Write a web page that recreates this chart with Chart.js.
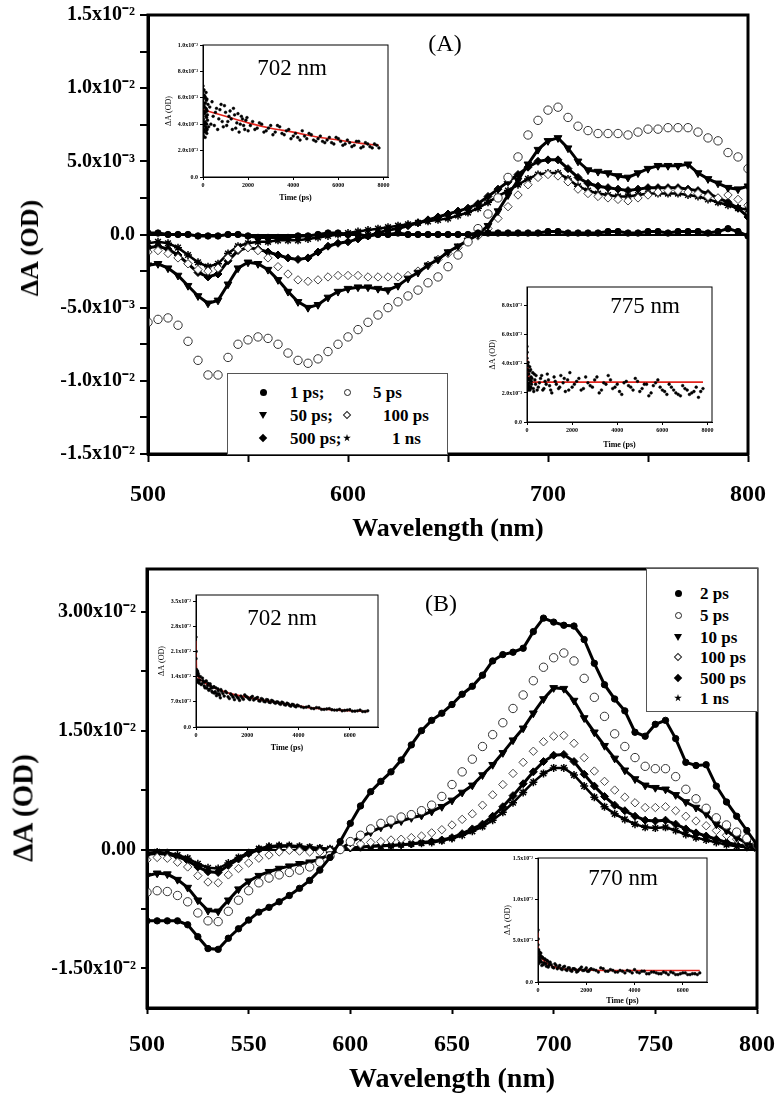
<!DOCTYPE html>
<html><head><meta charset="utf-8">
<script src="https://cdn.jsdelivr.net/npm/chart.js@4.4.0/dist/chart.umd.min.js"></script>
<style>
html,body{margin:0;padding:0;background:#fff;width:775px;height:1097px;overflow:hidden;position:relative;}
canvas{position:absolute;display:block;}
.t{position:absolute;font-family:"Liberation Serif","Times New Roman",serif;color:#000;white-space:nowrap;line-height:1;}
.ctr{transform:translate(-50%,-50%);}
.rot{transform:translate(-50%,-50%) rotate(-90deg);font-weight:bold;}
.leg{position:absolute;background:#fff;border:1px solid #555;box-sizing:border-box;}
.sym{position:absolute;box-sizing:border-box;}
.lt{position:absolute;font-family:"Liberation Serif","Times New Roman",serif;font-weight:bold;font-size:17px;line-height:1;transform:translateY(-50%);color:#000;white-space:nowrap;}
</style></head><body>
<canvas id="mainA" width="775" height="545" style="left:0;top:0"></canvas>
<canvas id="mainB" width="775" height="552" style="left:0;top:545px"></canvas>
<canvas id="insA1" width="255" height="178" style="left:140px;top:35px"></canvas>
<canvas id="insA2" width="250" height="175" style="left:470px;top:277px"></canvas>
<canvas id="insB1" width="245" height="175" style="left:140px;top:585px"></canvas>
<canvas id="insB2" width="225" height="158" style="left:490px;top:848px"></canvas>
<div id="overlay"></div>
<script>
// ---------------- DATA ----------------
const wavelength = [500,505,510,515,520,525,530,535,540,545,550,555,560,565,570,575,580,585,590,595,600,605,610,615,620,625,630,635,640,645,650,655,660,665,670,675,680,685,690,695,700,705,710,715,720,725,730,735,740,745,750,755,760,765,770,775,780,785,790,795,800];

// Panel A, ΔA in units of 1e-3 OD
const labelsA = ["1 ps","5 ps","50 ps","100 ps","500 ps","1 ns"];
const a1ps = [0.1,0.1,0.0,0.0,0.0,-0.1,-0.1,-0.1,0.0,0.0, -0.1,-0.2,-0.2,-0.2,-0.2,-0.1,-0.1,0.0,0.1,0.1, 0.0,0.0,-0.1,0.0,0.0,0.1,0.0,0.0,0.0,0.0, 0.0,0.0,0.0,0.1,0.1,0.1,0.1,0.1,0.1,0.1, 0.2,0.2,0.1,0.1,0.1,0.1,0.2,0.2,0.1,0.1, 0.2,0.2,0.1,0.2,0.2,0.2,0.1,0.2,0.4,0.2, -0.1];
const a5ps = [-6.0,-5.8,-5.7,-6.2,-7.3,-8.6,-9.6,-9.6,-8.4,-7.5, -7.2,-7.0,-7.1,-7.5,-8.1,-8.6,-8.8,-8.5,-8.0,-7.5, -7.0,-6.5,-6.0,-5.5,-5.0,-4.6,-4.2,-3.8,-3.3,-2.9, -2.2,-1.4,-0.5,0.4,1.4,2.5,3.9,5.3,6.8,7.8, 8.5,8.7,8.0,7.4,7.1,6.9,6.9,6.9,6.8,7.0, 7.2,7.2,7.3,7.3,7.3,7.0,6.6,6.4,5.6,5.3, 4.5];
const a50ps = [-2.1,-2.0,-2.3,-2.8,-3.5,-4.2,-4.7,-4.5,-3.4,-2.3, -1.9,-2.0,-2.4,-3.1,-3.9,-4.6,-5.0,-4.8,-4.3,-3.9, -3.7,-3.6,-3.6,-3.7,-3.8,-3.5,-3.0,-2.6,-2.1,-1.7, -1.2,-0.8,-0.4,0.0,0.6,1.6,2.7,3.7,4.8,5.8, 6.4,6.6,5.9,5.0,4.4,4.3,4.2,4.0,3.9,4.2, 4.5,4.7,4.7,4.7,4.8,4.2,3.8,3.5,3.2,3.1, 3.3];
const a100ps = [-1.2,-1.1,-1.3,-1.6,-2.0,-2.4,-2.5,-2.3,-1.6,-1.0, -0.9,-1.1,-1.6,-2.2,-2.7,-3.1,-3.2,-3.1,-2.9,-2.8, -2.8,-2.8,-2.9,-2.9,-2.9,-2.9,-2.8,-2.5,-2.1,-1.7, -1.3,-0.9,-0.5,-0.1,0.4,1.1,1.9,2.7,3.4,3.9, 4.1,4.0,3.6,3.1,2.8,2.6,2.5,2.4,2.3,2.5, 2.7,2.9,3.0,3.0,2.9,2.8,2.6,2.5,2.7,2.4, 2.0];
const a500ps = [-0.9,-0.8,-1.0,-1.4,-2.0,-2.6,-2.9,-2.7,-1.8,-1.1, -0.9,-1.0,-1.2,-1.4,-1.6,-1.7,-1.6,-1.2,-0.8,-0.6, -0.5,-0.3,-0.1,0.1,0.3,0.4,0.6,0.8,1.0,1.2, 1.4,1.6,1.8,2.1,2.6,3.1,3.6,4.1,4.6,5.0, 5.1,5.1,4.5,3.9,3.5,3.3,3.2,3.1,3.0,3.1, 3.2,3.2,3.2,3.2,3.1,3.0,2.8,2.5,2.2,1.8, 1.2];
const a1ns = [-0.6,-0.5,-0.6,-0.9,-1.4,-1.9,-2.2,-2.0,-1.3,-0.8, -0.6,-0.5,-0.5,-0.4,-0.4,-0.4,-0.3,-0.2,-0.1,0.0, 0.1,0.2,0.3,0.4,0.5,0.6,0.7,0.8,0.9,1.0, 1.1,1.3,1.5,1.8,2.2,2.6,3.0,3.4,3.8,4.1, 4.2,4.2,3.8,3.3,3.0,2.8,2.7,2.6,2.6,2.7, 2.8,2.8,2.8,2.8,2.7,2.6,2.4,2.2,2.0,1.8, 1.7];

// Panel B, ΔA in units of 1e-3 OD
const labelsB = ["2 ps","5 ps","10 ps","100 ps","500 ps","1 ns"];
const b2ps = [-9.0,-9.0,-9.0,-9.0,-9.5,-11.0,-12.5,-12.6,-11.2,-10.0, -8.9,-7.9,-7.3,-6.6,-5.8,-4.9,-3.9,-2.6,-1.0,1.0, 3.3,5.5,7.3,8.6,9.8,11.3,13.2,15.0,16.3,17.2, 18.3,19.6,20.6,22.0,23.8,24.6,24.9,25.4,27.5,29.2, 28.7,28.3,28.2,26.5,23.5,20.8,19.0,17.5,14.8,14.3, 15.8,16.3,14.0,11.0,10.6,10.7,8.0,6.0,4.2,2.4, 0.6];
const b5ps = [-5.4,-5.2,-5.3,-5.8,-6.6,-8.0,-9.0,-9.1,-7.8,-6.4, -5.2,-4.2,-3.6,-3.2,-2.9,-2.6,-2.2,-1.6,-0.8,0.0, 1.0,1.8,2.6,3.3,3.7,4.1,4.4,4.9,5.6,6.7, 8.2,9.8,11.4,13.0,14.5,16.0,17.8,19.5,21.3,23.0, 24.2,24.8,23.8,21.6,19.2,16.8,14.6,13.0,11.6,10.5, 10.2,10.2,9.2,7.6,6.4,5.2,4.0,3.1,2.2,1.4, 0.7];
const b10ps = [-3.3,-3.0,-3.1,-3.8,-4.8,-6.4,-7.7,-7.8,-6.4,-5.0, -4.0,-3.3,-2.8,-2.4,-2.1,-1.8,-1.6,-1.2,-0.6,0.0, 0.9,1.6,2.2,2.8,3.2,3.6,4.0,4.3,4.8,5.4, 6.2,7.2,8.1,9.4,10.7,12.2,13.8,15.3,17.2,19.0, 20.4,20.3,18.8,16.6,14.8,13.1,11.5,10.0,8.9,8.1, 7.8,7.6,6.9,6.0,5.3,4.5,3.2,2.4,1.5,0.8, 0.4];
const b100ps = [-1.3,-1.0,-1.1,-1.6,-2.2,-3.3,-4.1,-4.2,-3.2,-2.4, -1.7,-1.1,-0.7,-0.3,-0.1,-0.2,-0.3,-0.3,-0.2,0.0, 0.4,0.7,0.9,1.0,1.2,1.3,1.5,1.7,2.1,2.5, 3.1,3.8,4.5,5.6,6.9,8.2,9.6,11.0,12.4,13.6, 14.3,14.4,13.4,11.6,9.9,8.6,7.5,6.6,5.9,5.3, 5.3,5.4,4.9,4.2,3.6,3.0,2.4,1.8,1.3,0.8, 0.4];
const b500ps = [-0.6,-0.5,-0.6,-0.9,-1.4,-2.2,-2.8,-2.9,-2.0,-1.2, -0.5,0.0,0.3,0.4,0.4,0.3,0.2,0.1,0.0,0.1, 0.2,0.3,0.4,0.5,0.5,0.6,0.7,0.9,1.0,1.2, 1.5,2.0,2.6,3.2,4.2,5.4,6.8,8.3,9.8,11.1, 11.9,12.0,11.1,9.5,8.0,6.7,5.6,4.9,4.2,3.7, 3.6,3.7,3.2,2.6,2.1,1.7,1.3,0.9,0.6,0.4, 0.2];
const b1ns = [-0.4,-0.3,-0.4,-0.7,-1.1,-1.8,-2.3,-2.4,-1.7,-1.0, -0.4,0.1,0.4,0.5,0.5,0.4,0.3,0.2,0.1,0.1, 0.2,0.3,0.4,0.4,0.5,0.6,0.7,0.8,0.9,1.1, 1.4,1.8,2.3,2.9,3.7,4.7,5.9,7.2,8.5,9.6, 10.3,10.3,9.4,8.0,6.6,5.4,4.5,3.8,3.2,2.8, 2.7,2.8,2.4,1.9,1.5,1.2,0.9,0.6,0.4,0.3, 0.1];

// Axis ticks and labels (ΔA in 1e-3 OD)
const xTicksA = [500,550,600,650,700,750,800];
const xTickLabelsA = ["500","","600","","700","","800"];
const yTicksA = [-15,-12.5,-10,-7.5,-5,-2.5,0,2.5,5,7.5,10,12.5,15];
const yTickLabelsA = ["-1.5x10⁻²","","-1.0x10⁻²","","-5.0x10⁻³","","0.0","","5.0x10⁻³","","1.0x10⁻²","","1.5x10⁻²"];
const xTicksB = [500,550,600,650,700,750,800];
const xTickLabelsB = ["500","550","600","650","700","750","800"];
const yTicksB = [-15,-7.5,0,7.5,15,22.5,30];
const yTickLabelsB = ["-1.50x10⁻²","","0.00","","1.50x10⁻²","","3.00x10⁻²"];

// Insets: kinetics (time in ps, ΔA in 1e-3 OD)
const insetA1Time = [0,0,10,20,30,40,50,60,70,80,90,100,110,120,130,140,150,160,170,180,200,220,250,300,350,400,450,500,600,700,800,900,1000,1100,1200,1300,1400,1500,1600,1700,1800,1900,2000,2200,2400,2600,2800,3000,3200,3400,3600,3800,4000,4200,4400,4600,4800,5000,5200,5400,5600,5800,6000,6200,6400,6600,6800,7000,7200,7400,7600,7800,
 5,15,25,35,45,55,65,75,85,95,105,115,125,135,145,155,165,175,185,195,550,650,750,850,950,1050,1150,1250,1350,1450,1550,1650,1750,1850,1950,2100,2300,2500,2700,2900,3100,3300,3500,3700,3900,4100,4300,4500,4700,4900,5100,5300,5500,5700,5900,6100,6300,6500,6700,6900,7100,7300,7500,7700];
const insetA1Signal = [6.9,3.2,5.9,4.4,3.6,5.4,6.2,3.9,4.8,5.6,3.4,4.9,6.0,4.1,5.2,3.7,5.8,4.5,3.3,5.0,4.3,5.5,3.8,5.3,4.0,5.7,4.6,3.9,5.2,4.4,5.5,3.8,4.9,4.2,5.0,3.6,4.7,4.1,3.4,4.6,3.9,4.3,3.5,4.2,3.7,4.0,3.5,3.9,3.4,3.8,3.2,3.6,3.1,3.0,3.5,2.9,3.2,2.7,3.1,2.6,3.0,2.5,2.9,2.4,2.8,2.3,2.7,2.2,2.6,2.3,2.5,2.2,
 6.5,3.1,5.0,4.0,6.6,3.5,5.3,4.2,6.1,3.0,5.6,3.8,4.6,6.4,3.5,5.1,4.0,5.9,3.6,4.7,4.9,3.6,5.1,4.2,5.4,3.9,4.6,4.4,5.2,3.7,4.8,4.0,4.4,3.6,4.5,3.9,3.6,4.1,3.4,3.7,3.2,3.9,3.3,3.5,2.9,3.3,2.8,3.1,3.3,2.8,2.9,2.7,2.8,2.6,3.0,2.7,2.5,2.6,2.4,2.7,2.3,2.5,2.2,2.4];
const insetA1FitTime = [0,500,1000,2000,3000,4000,5000,6000,7000,7800];
const insetA1FitSignal = [5.1,4.85,4.6,4.1,3.7,3.4,3.05,2.8,2.55,2.4];
const insetA1YTicks = [0,2,4,6,8,10];
const insetA1YLabels = ["0.0","2.0x10⁻³","4.0x10⁻³","6.0x10⁻³","8.0x10⁻³","1.0x10⁻²"];

const insetA2Time = [0,0,10,20,30,40,50,60,80,100,120,150,180,200,250,300,350,400,500,600,700,800,900,1000,1100,1200,1300,1400,1500,1600,1700,1800,1900,2000,2200,2400,2600,2800,3000,3200,3400,3600,3800,4000,4200,4400,4600,4800,5000,5200,5400,5600,5800,6000,6200,6400,6600,6800,7000,7200,7400,7600,7800,
 5,15,25,35,45,55,70,90,110,130,140,160,170,190,220,280,320,380,450,550,650,750,850,950,1050,1250,1450,1650,1850,2100,2300,2500,2700,2900,3100,3300,3500,3700,3900,4100,4300,4500,4700,4900,5100,5300,5500,5700,5900,6100,6300,6500,6700,6900,7100,7300,7500,7700];
const insetA2Signal = [5.2,4.4,3.9,2.4,3.6,2.9,4.1,2.2,3.3,2.7,3.8,2.3,3.1,2.6,3.4,2.1,2.9,3.2,2.4,3.0,2.2,2.8,3.3,2.5,2.0,3.1,2.6,2.3,3.2,2.7,2.1,2.9,3.4,2.4,2.8,2.2,3.1,2.5,2.9,2.0,2.7,3.2,2.3,2.6,1.9,2.8,2.4,3.0,2.1,2.6,1.8,2.5,2.9,2.2,1.9,2.4,2.0,1.8,2.3,1.9,2.1,1.7,2.3,
 4.8,2.3,3.3,2.6,3.9,2.4,3.0,2.5,3.5,2.2,2.9,3.6,2.4,2.8,3.0,2.3,3.3,2.6,2.2,2.7,3.2,2.3,2.6,2.9,2.2,2.8,2.4,3.0,2.2,2.6,3.0,2.3,2.7,2.4,3.1,2.2,2.6,2.9,2.4,2.1,2.7,2.5,2.2,2.8,2.3,2.6,2.0,2.7,2.4,2.1,2.6,2.2,1.9,2.5,2.2,2.0,2.4,2.1];
const insetA2FitTime = [0,30,80,150,250,1000,4000,7800];
const insetA2FitSignal = [4.6,4.0,3.2,2.8,2.75,2.75,2.75,2.75];
const insetA2YTicks = [0,2,4,6,8];
const insetA2YLabels = ["0.0","2.0x10⁻³","4.0x10⁻³","6.0x10⁻³","8.0x10⁻³"];

const insetB1Time = [0,0,10,20,30,50,80,100,150,200,250,300,350,400,450,500,550,600,650,700,750,800,850,900,950,1000,1100,1200,1300,1400,1500,1600,1700,1800,1900,2000,2100,2200,2300,2400,2500,2600,2700,2800,2900,3000,3100,3200,3300,3400,3500,3600,3700,3800,3900,4000,4200,4400,4600,4800,5000,5200,5400,5600,5800,6000,6200,6400,6600,6700,
 5,15,25,40,60,70,90,120,170,220,270,320,370,420,470,520,570,620,670,720,770,820,870,920,970,1050,1150,1250,1350,1450,1550,1650,1750,1850,1950,2050,2150,2250,2350,2450,2550,2650,2750,2850,2950,3050,3150,3250,3350,3450,3550,3650,3750,3850,3950,4100,4300,4500,4700,4900,5100,5300,5500,5700,5900,6100,6300,6500];
const insetB1Signal = [25,19,16,14.5,13.0,15.0,12.5,14.2,13.0,11.8,13.6,12.4,10.9,12.8,11.5,10.2,12.0,10.8,9.6,11.2,9.8,8.7,10.6,9.2,8.1,9.9,8.6,9.5,7.9,8.8,7.6,8.4,7.4,8.1,8.9,8.3,7.6,8.5,7.8,8.2,7.2,7.7,7.0,7.5,6.8,7.2,6.6,6.9,6.3,6.7,6.1,6.4,5.8,6.2,5.6,5.9,5.4,5.7,5.1,5.3,4.9,5.1,4.7,4.9,4.6,4.8,4.4,4.7,4.3,4.5,
 21,13.0,15.8,12.6,15.5,13.1,14.8,12.2,14.0,12.0,12.9,11.4,12.6,10.8,12.1,10.5,11.4,9.9,11.0,9.4,10.9,9.3,10.1,8.8,10.4,9.3,9.9,8.4,9.2,8.3,8.9,8.0,8.6,7.7,8.5,7.9,8.2,7.5,8.0,7.3,7.9,7.1,7.6,6.9,7.4,6.8,7.0,6.5,6.9,6.2,6.6,6.0,6.3,5.8,6.1,5.6,5.5,5.2,5.4,4.9,5.0,4.8,4.7,4.5,4.7,4.4,4.5,4.3];
const insetB1FitTime = [0,20,60,200,500,1000,1500,2000,2500,3000,3500,4000,4500,5000,5500,6000,6700];
const insetB1FitSignal = [24,16,14.2,13.0,11.6,10.1,9.0,8.3,7.6,7.0,6.4,5.8,5.3,5.0,4.7,4.5,4.3];
const insetB1YTicks = [0,7,14,21,28,35];
const insetB1YLabels = ["0.0","7.0x10⁻³","1.4x10⁻²","2.1x10⁻²","2.8x10⁻²","3.5x10⁻²"];

const insetB2Time = [0,0,10,20,30,50,70,100,130,160,200,250,300,350,400,450,500,600,700,800,900,1000,1100,1200,1300,1400,1500,1600,1700,1800,1900,2000,2100,2200,2400,2600,2800,3000,3200,3400,3600,3800,4000,4200,4400,4600,4800,5000,5200,5400,5600,5800,6000,6200,6400,6600,6700,
 5,15,25,40,60,80,90,115,145,180,225,275,325,375,425,475,550,650,750,850,950,1050,1150,1250,1350,1450,1550,1650,1750,1850,1950,2050,2150,2300,2500,2700,2900,3100,3300,3500,3700,3900,4100,4300,4500,4700,4900,5100,5300,5500,5700,5900,6100,6300,6500];
const insetB2Signal = [6.3,4.5,3.8,2.2,3.4,2.8,3.6,2.5,3.1,2.0,2.9,2.3,2.7,1.9,2.5,2.0,2.4,1.8,2.2,1.6,2.0,1.5,1.9,1.4,1.7,1.3,1.6,1.2,1.5,1.8,1.4,1.7,1.3,1.6,1.4,1.7,1.3,1.5,1.2,1.4,1.1,1.3,1.5,1.1,1.3,1.0,1.2,1.0,1.2,0.9,1.1,0.9,1.1,0.9,1.0,0.9,1.1,
 5.2,2.6,3.9,3.0,2.4,3.3,2.7,3.5,2.4,3.0,2.1,2.8,2.2,2.6,1.8,2.3,2.1,1.7,2.0,1.8,1.6,1.8,1.5,1.7,1.4,1.6,1.5,1.3,1.6,1.4,1.5,1.3,1.5,1.5,1.2,1.6,1.3,1.4,1.2,1.3,1.4,1.1,1.2,1.3,1.0,1.2,1.1,1.0,1.1,1.2,0.9,1.0,1.1,0.9,1.0];
const insetB2FitTime = [0,20,100,300,600,1000,1500,2000,3000,4000,5000,6700];
const insetB2FitSignal = [6.0,3.4,3.0,2.4,1.9,1.6,1.5,1.45,1.4,1.4,1.4,1.4];
const insetB2YTicks = [0,5,10,15];
const insetB2YLabels = ["0.0","5.0x10⁻³","1.0x10⁻²","1.5x10⁻²"];

const insetXTicksA = [0,2000,4000,6000,8000];
const insetXTicksB = [0,2000,4000,6000];

// ---------------- RENDERING ----------------
const SERIF = "'Liberation Serif','Times New Roman',serif";
const framePlugin = {
  id: 'frame',
  beforeDraw(chart, args, opts) {
    if (opts.fill) {
      const a = chart.chartArea, c = chart.ctx;
      c.save(); c.fillStyle = opts.fill; c.fillRect(a.left, a.top, a.right - a.left, a.bottom - a.top); c.restore();
    }
  },
  afterDraw(chart, args, opts) {
    const a = chart.chartArea, c = chart.ctx;
    c.save(); c.strokeStyle = '#000'; c.lineWidth = opts.width || 1;
    c.strokeRect(a.left, a.top, a.right - a.left, a.bottom - a.top); c.restore();
  }
};

const styles = [
  {pointStyle:'circle', radius:3.2, fill:'#000', border:'#000', bw:1, line:3, rot:0},
  {pointStyle:'circle', radius:4.2, fill:'#fff', border:'#333', bw:1, line:0, rot:0},
  {pointStyle:'triangle', radius:4.5, fill:'#000', border:'#000', bw:1, line:3, rot:180},
  {pointStyle:'rectRot', radius:4.2, fill:'#fff', border:'#444', bw:1, line:0, rot:0},
  {pointStyle:'rectRot', radius:4, fill:'#000', border:'#000', bw:1, line:3, rot:0},
  {pointStyle:'star', radius:4, fill:'#000', border:'#000', bw:1.5, line:2.5, rot:0},
];

function spectra(labels, series) {
  return series.map((vals, i) => {
    const s = styles[i];
    return {
      label: labels[i],
      data: wavelength.map((w, k) => ({x: w, y: vals[k]})),
      showLine: s.line > 0, borderColor: '#000', borderWidth: s.line || 0,
      pointStyle: s.pointStyle, pointRadius: s.radius, pointRotation: s.rot,
      pointBackgroundColor: s.fill, pointBorderColor: s.border, pointBorderWidth: s.bw,
      tension: 0
    };
  });
}

function mainChart(id, g) {
  const zeroColor = ctx => (ctx.tick && Math.abs(ctx.tick.value) < 1e-9) ? '#000' : 'rgba(0,0,0,0)';
  return new Chart(document.getElementById(id), {
    type: 'line',
    data: {datasets: spectra(g.labels, g.series)},
    plugins: [framePlugin],
    options: {
      responsive: false, animation: false, events: [],
      layout: {padding: {top: g.top, right: g.right, left: 0, bottom: 0}},
      plugins: {legend: {display: false}, tooltip: {enabled: false}, frame: {width: 3}},
      scales: {
        x: {
          type: 'linear', min: 500, max: 800,
          afterBuildTicks: s => { s.ticks = g.xTicks.map(v => ({value: v})); },
          afterFit: s => { s.height = g.xH; s.paddingLeft = 0; s.paddingRight = 0; },
          grid: {drawOnChartArea: false, drawTicks: true, tickLength: g.tl, tickWidth: 2, tickColor: '#000'},
          border: {display: true, color: '#000', width: 3},
          ticks: {callback: (v, i) => g.xLabels[i], color: '#000', padding: g.xPad, maxRotation: 0, autoSkip: false,
                  font: {family: SERIF, size: g.xFont, weight: 'bold', lineHeight: 1.2}},
          title: {display: true, text: 'Wavelength (nm)', color: '#000',
                  font: {family: SERIF, size: g.titleFont, weight: 'bold', lineHeight: 1}, padding: {top: 0, bottom: g.xTitlePad}}
        },
        y: {
          type: 'linear', min: g.yMin, max: g.yMax,
          afterBuildTicks: s => { s.ticks = g.yTicks.map(v => ({value: v})); },
          afterFit: s => { s.width = g.yW; s.paddingTop = 0; s.paddingBottom = 0; },
          grid: {drawOnChartArea: true, color: zeroColor, lineWidth: 2, drawTicks: true, tickLength: g.tl, tickWidth: 2, tickColor: '#000'},
          border: {display: true, color: '#000', width: 3},
          ticks: {callback: (v, i) => g.yLabels[i], color: '#000', padding: 5, autoSkip: false,
                  font: {family: SERIF, size: g.yFont, weight: 'bold'}},
          title: {display: false}
        }
      }
    }
  });
}

mainChart('mainA', {labels: labelsA, series: [a1ps, a5ps, a50ps, a100ps, a500ps, a1ns],
  top: 15, right: 27, xH: 91, yW: 148, tl: 8, xPad: 18, xFont: 24, yFont: 20, titleFont: 26, xTitlePad: 3,
  xTicks: xTicksA, xLabels: xTickLabelsA, yTicks: yTicksA, yLabels: yTickLabelsA, yMin: -15, yMax: 15});
mainChart('mainB', {labels: labelsB, series: [b2ps, b5ps, b10ps, b100ps, b500ps, b1ns],
  top: 24, right: 18, xH: 89, yW: 147, tl: 6, xPad: 16, xFont: 24, yFont: 20, titleFont: 28, xTitlePad: 3,
  xTicks: xTicksB, xLabels: xTickLabelsB, yTicks: yTicksB, yLabels: yTickLabelsB, yMin: -20, yMax: 35.4});

function insetChart(id, g) {
  return new Chart(document.getElementById(id), {
    type: 'line',
    data: {datasets: [
      {label: 'data', data: g.t.map((t, k) => ({x: t, y: g.v[k]})), showLine: false, pointRadius: 1.4,
       pointBackgroundColor: '#000', pointBorderColor: '#000', pointBorderWidth: 0.5},
      {label: 'fit', data: g.ft.map((t, k) => ({x: t, y: g.fv[k]})), showLine: true, pointRadius: 0,
       borderColor: '#e3241c', borderWidth: 1.6, cubicInterpolationMode: 'monotone'}
    ]},
    plugins: [framePlugin],
    options: {
      responsive: false, animation: false, events: [],
      layout: {padding: {top: g.top, right: g.right, left: 0, bottom: 0}},
      plugins: {legend: {display: false}, tooltip: {enabled: false}, frame: {width: 1, fill: '#fff'}},
      scales: {
        x: {
          type: 'linear', min: 0, max: g.xMax,
          afterBuildTicks: s => { s.ticks = g.xTicks.map(v => ({value: v})); },
          afterFit: s => { s.height = g.xH; s.paddingLeft = 0; s.paddingRight = 0; },
          grid: {drawOnChartArea: false, tickLength: 3, tickColor: '#000'},
          border: {display: true, color: '#000', width: 1},
          ticks: {callback: v => String(v), color: '#000', padding: 2, maxRotation: 0, autoSkip: false,
                  font: {family: SERIF, size: 6, weight: 'bold'}},
          title: {display: true, text: 'Time (ps)', color: '#000', font: {family: SERIF, size: 8, weight: 'bold', lineHeight: 1.2},
                  padding: {top: 0, bottom: g.xTitlePad}}
        },
        y: {
          type: 'linear', min: 0, max: g.yMax,
          afterBuildTicks: s => { s.ticks = g.yTicks.map(v => ({value: v})); },
          afterFit: s => { s.width = g.yW; s.paddingTop = 0; s.paddingBottom = 0; },
          grid: {drawOnChartArea: false, tickLength: 3, tickColor: '#000'},
          border: {display: true, color: '#000', width: 1},
          ticks: {callback: (v, i) => g.yLabels[i], color: '#000', padding: 2, autoSkip: false,
                  font: {family: SERIF, size: 6, weight: 'bold'}},
          title: {display: true, text: 'ΔA (OD)', color: '#000', font: {family: SERIF, size: 8, lineHeight: 1.2},
                  padding: {top: g.yTitlePad, bottom: 0}}
        }
      }
    }
  });
}

insetChart('insA1', {t: insetA1Time, v: insetA1Signal, ft: insetA1FitTime, fv: insetA1FitSignal,
  xMax: 8200, yMax: 10, xTicks: insetXTicksA, yTicks: insetA1YTicks, yLabels: insetA1YLabels,
  top: 10, right: 7, xH: 36, yW: 63, xTitlePad: 10, yTitlePad: 24});
insetChart('insA2', {t: insetA2Time, v: insetA2Signal, ft: insetA2FitTime, fv: insetA2FitSignal,
  xMax: 8200, yMax: 9.3, xTicks: insetXTicksA, yTicks: insetA2YTicks, yLabels: insetA2YLabels,
  top: 10, right: 8, xH: 30, yW: 57, xTitlePad: 2, yTitlePad: 18});
insetChart('insB1', {t: insetB1Time, v: insetB1Signal, ft: insetB1FitTime, fv: insetB1FitSignal,
  xMax: 7100, yMax: 36.7, xTicks: insetXTicksB, yTicks: insetB1YTicks, yLabels: insetB1YLabels,
  top: 10, right: 7, xH: 33, yW: 56, xTitlePad: 7, yTitlePad: 17});
insetChart('insB2', {t: insetB2Time, v: insetB2Signal, ft: insetB2FitTime, fv: insetB2FitSignal,
  xMax: 7000, yMax: 15, xTicks: insetXTicksB, yTicks: insetB2YTicks, yLabels: insetB2YLabels,
  top: 10, right: 8, xH: 24, yW: 48, xTitlePad: 0, yTitlePad: 13});

// ---------------- TEXT OVERLAYS ----------------
const ov = document.getElementById('overlay');
function txt(s, x, y, size, cls) {
  const d = document.createElement('div');
  d.className = 't ' + (cls || 'ctr'); d.textContent = s;
  d.style.left = x + 'px'; d.style.top = y + 'px'; d.style.fontSize = size + 'px';
  ov.appendChild(d);
}
txt('ΔA (OD)', 30, 248, 26, 'rot');
txt('ΔA (OD)', 23, 808, 29, 'rot');
txt('(A)', 445, 43, 24);
txt('(B)', 441, 603, 24);
txt('702 nm', 292, 67, 23);
txt('775 nm', 645, 305, 23);
txt('702 nm', 282, 617, 23);
txt('770 nm', 623, 877, 23);

function legendBox(x, y, w, h) {
  const b = document.createElement('div'); b.className = 'leg';
  b.style.left = x + 'px'; b.style.top = y + 'px'; b.style.width = w + 'px'; b.style.height = h + 'px';
  ov.appendChild(b);
}
function symbol(i, x, y) {
  const s = document.createElement('div'); s.className = 'sym';
  const st = s.style;
  if (i === 0 || i === 1) {
    st.width = '7px'; st.height = '7px'; st.borderRadius = '50%';
    st.left = (x - 3.5) + 'px'; st.top = (y - 3.5) + 'px';
    if (i === 0) st.background = '#000'; else { st.border = '1px solid #222'; st.background = '#fff'; }
  } else if (i === 2) {
    st.width = '0'; st.height = '0'; st.borderLeft = '4px solid transparent'; st.borderRight = '4px solid transparent';
    st.borderTop = '7px solid #000'; st.left = (x - 4) + 'px'; st.top = (y - 3.5) + 'px';
  } else if (i === 3 || i === 4) {
    st.width = '6px'; st.height = '6px'; st.transform = 'rotate(45deg)';
    st.left = (x - 3) + 'px'; st.top = (y - 3) + 'px';
    if (i === 4) st.background = '#000'; else { st.border = '1px solid #222'; st.background = '#fff'; }
  } else {
    st.width = '8px'; st.height = '8px'; st.background = '#000';
    st.clipPath = 'polygon(50% 0%,61% 35%,98% 35%,68% 57%,79% 91%,50% 70%,21% 91%,32% 57%,2% 35%,39% 35%)';
    st.left = (x - 4) + 'px'; st.top = (y - 4) + 'px';
  }
  ov.appendChild(s);
}
function legendItem(i, label, sx, tx, y) {
  symbol(i, sx, y);
  const t = document.createElement('div'); t.className = 'lt'; t.textContent = label;
  t.style.left = tx + 'px'; t.style.top = y + 'px'; ov.appendChild(t);
}
// Legend A (2 columns)
legendBox(227, 373, 221, 82);
legendItem(0, labelsA[0] + ';', 263, 290, 392);
legendItem(1, labelsA[1], 347, 373, 392);
legendItem(2, labelsA[2] + ';', 263, 290, 415);
legendItem(3, labelsA[3], 347, 383, 415);
legendItem(4, labelsA[4] + ';', 263, 290, 438);
legendItem(5, labelsA[5], 347, 392, 438);
// Legend B (1 column)
legendBox(646, 568, 112, 144);
const rowsB = [593, 615, 637, 657, 678, 698];
labelsB.forEach((l, i) => legendItem(i, l, 678, 700, rowsB[i]));
</script>
</body></html>
